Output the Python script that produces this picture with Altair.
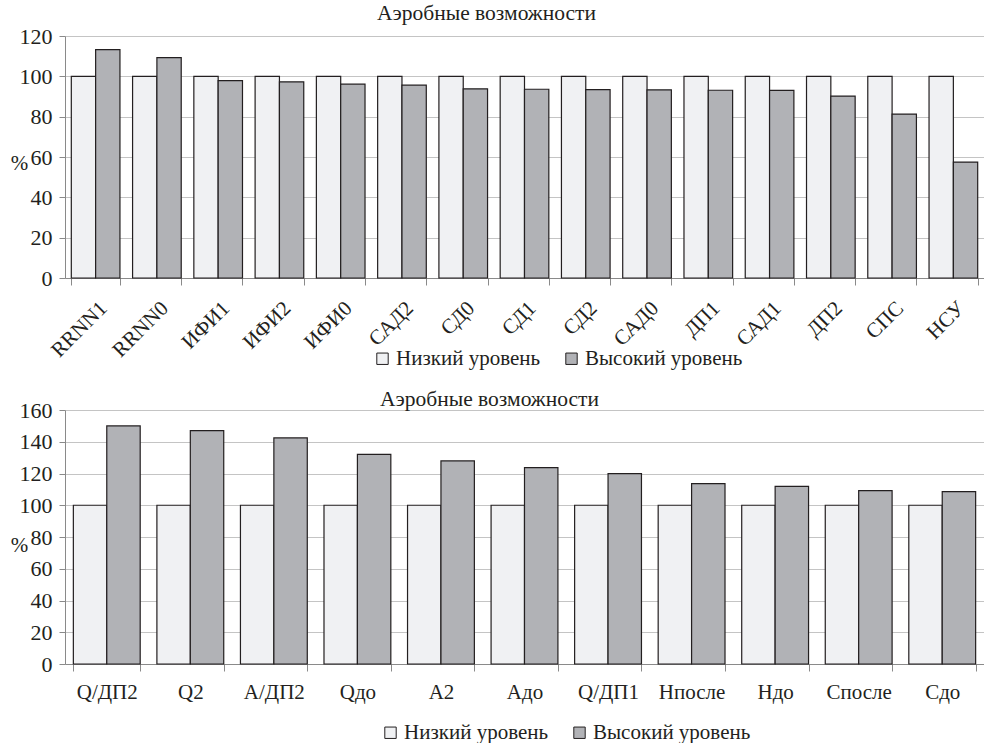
import altair as alt
import pandas as pd

FONT = "Times New Roman, Liberation Serif, DejaVu Serif, serif"
INK = "#231f20"
GRID = "#c4c4c4"
AXIS = "#8a8a8a"

series = ["Низкий уровень", "Высокий уровень"]
series_colors = ["#f0f1f3", "#b1b2b6"]
chart_title = "Аэробные возможности"

top_categories = ["RRNN1", "RRNN0", "ИФИ1", "ИФИ2", "ИФИ0", "САД2", "СД0", "СД1",
                  "СД2", "САД0", "ДП1", "САД1", "ДП2", "СПС", "НСУ"]
top_low = [100, 100, 100, 100, 100, 100, 100, 100, 100, 100, 100, 100, 100, 100, 100]
top_high = [113.2, 109.3, 97.9, 97.3, 96.1, 95.6, 93.8, 93.6, 93.4, 93.3, 93.1, 93.0,
            90.2, 81.3, 57.5]
top_ticks = [0, 20, 40, 60, 80, 100, 120]

bottom_categories = ["Q/ДП2", "Q2", "А/ДП2", "Qдо", "А2", "Адо", "Q/ДП1", "Нпосле",
                     "Ндо", "Спосле", "Сдо"]
bottom_low = [100, 100, 100, 100, 100, 100, 100, 100, 100, 100, 100]
bottom_high = [150.0, 147.0, 142.4, 132.1, 127.9, 123.7, 119.9, 113.6, 111.9, 109.2, 108.6]
bottom_ticks = [0, 20, 40, 60, 80, 100, 120, 140, 160]


def make_panel(cats, low, high, ticks, width, height, pad_inner, label_angle, label_pad,
               title_dx, title_offset, legend_x, legend_y, pct_y):
    rows = []
    for c, lo, hi in zip(cats, low, high):
        rows.append({"cat": c, "series": series[0], "value": lo})
        rows.append({"cat": c, "series": series[1], "value": hi})
    df = pd.DataFrame(rows)
    return alt.Chart(df).mark_bar(stroke=INK, strokeWidth=1.2).encode(
        x=alt.X("cat:N", sort=cats,
                scale=alt.Scale(paddingInner=pad_inner, paddingOuter=pad_inner / 2),
                axis=alt.Axis(title=None, labelAngle=label_angle, tickBand="extent",
                              ticks=True, tickSize=7, tickColor=AXIS, domainColor=AXIS,
                              labelFont=FONT, labelFontSize=21, labelColor=INK,
                              labelPadding=label_pad, grid=False)),
        xOffset=alt.XOffset("series:N", sort=series,
                            scale=alt.Scale(paddingInner=0, paddingOuter=0)),
        y=alt.Y("value:Q", scale=alt.Scale(domain=[ticks[0], ticks[-1]], nice=False),
                axis=alt.Axis(values=ticks, title="%", titleAngle=0, titleX=-46,
                              titleY=pct_y, titleAlign="center", titleBaseline="middle",
                              titleFont=FONT, titleFontSize=21, titleFontWeight="normal",
                              titleColor=INK, labelFont=FONT, labelFontSize=22,
                              labelColor=INK, labelPadding=7, tickSize=6, tickColor=AXIS,
                              domainColor=AXIS, gridColor=GRID, grid=True)),
        color=alt.Color("series:N", sort=series,
                        scale=alt.Scale(domain=series, range=series_colors),
                        legend=alt.Legend(orient="none", legendX=legend_x, legendY=legend_y,
                                          direction="horizontal", title=None,
                                          symbolType="square", symbolSize=130,
                                          symbolStrokeColor=INK, symbolStrokeWidth=1,
                                          labelFont=FONT, labelFontSize=21, labelColor=INK,
                                          labelOffset=3, columnPadding=20, padding=0)),
    ).properties(
        width=width, height=height,
        title=alt.TitleParams(chart_title, font=FONT, fontSize=21.5, fontWeight="normal",
                              color=INK, anchor="middle", dx=title_dx, offset=title_offset),
    )


top = make_panel(top_categories, top_low, top_high, top_ticks, 919, 242, 0.206, -45, 12,
                 -38, 1, 307, 312, 127)
bottom = make_panel(bottom_categories, bottom_low, bottom_high, bottom_ticks, 919, 254,
                    0.2, 0, 10, -35, -11, 315, 312, 135)

chart = alt.vconcat(top, bottom, spacing=19).resolve_scale(
    x="independent", y="independent", color="independent", xOffset="independent"
).properties(
    padding={"left": 10, "top": 2, "right": 0, "bottom": 0}
).configure_view(stroke=None)

chart.save("out.html", embed_options={"renderer": "svg", "actions": False})
